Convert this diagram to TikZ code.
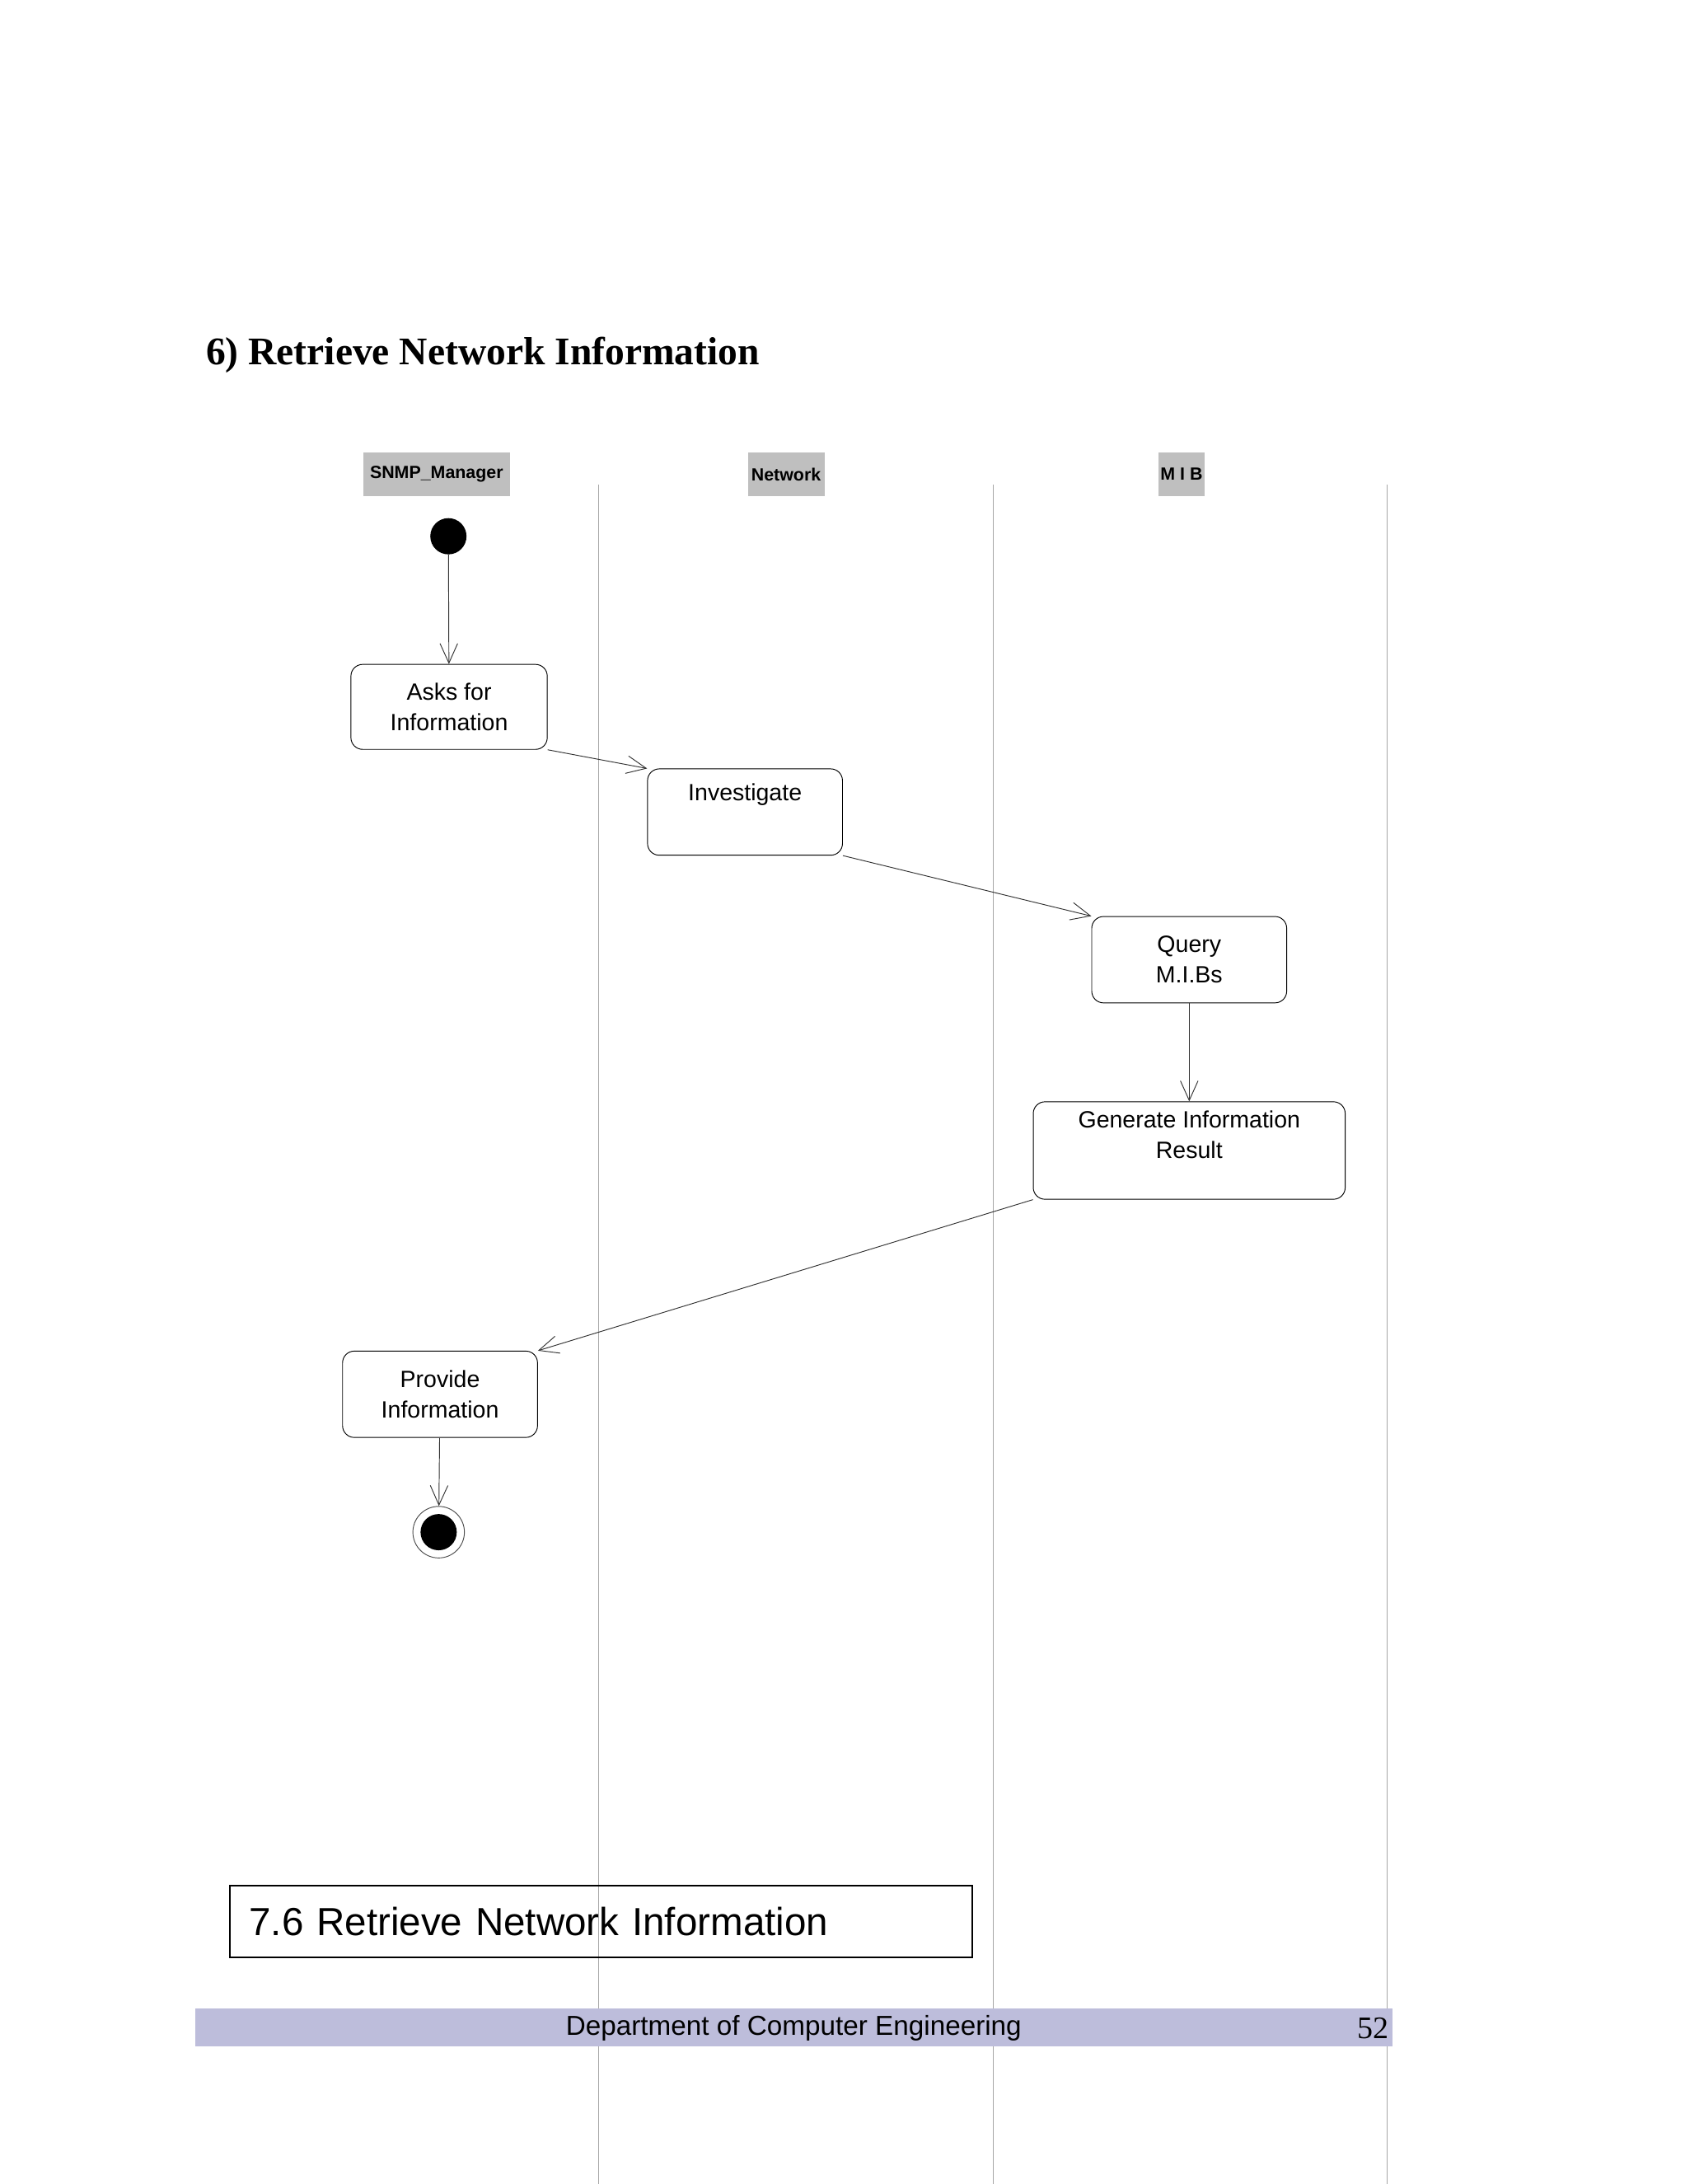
\documentclass[tikz,border=0pt]{standalone}
\usepackage{fontspec}
\setmainfont{Liberation Serif}
\newfontfamily\sansf{Liberation Sans}
\usetikzlibrary{arrows.meta}
\tikzset{
    act/.style={draw, rounded corners=6pt, thin, align=center, font=\sansf\fontsize{12}{15.5}\selectfont},
    lane/.style={draw=gray!70, thin},
    head/.style={fill=gray!50, font=\sansf\bfseries\fontsize{9}{10}\selectfont, inner sep=0pt},
    flow/.style={-{Straight Barb[length=10pt,width=9pt]}, thin, draw=black!80},
}
\begin{document}
\begin{tikzpicture}[x=0.025cm, y=-0.025cm]
    \useasboundingbox (0,0) rectangle (1210,1568);
    \node[anchor=west, font=\bfseries\fontsize{20}{24}\selectfont] (title) at (143,255) {6) Retrieve Network Information};

    % swimlanes
    \node[head, minimum width=105*0.025cm, minimum height=31*0.025cm] (hmgr) at (313.5,340.5) {SNMP\_Manager};
    \node[head, minimum width=55*0.025cm, minimum height=31*0.025cm] (hnet) at (564.5,340.5) {Network};
    \node[head, minimum width=33*0.025cm, minimum height=31*0.025cm] (hmib) at (848.5,340.5) {M I B};
    \foreach \x in {430,713,996}
        \draw[lane] (\x,348) -- (\x,1568);

    % states
    \node[circle, fill, minimum size=26*0.025cm, inner sep=0pt] (start) at (322,385) {};
    \node[act, minimum width=141*0.025cm, minimum height=61*0.025cm] (asks) at (322.5,507.5) {Asks for\\Information};
    \node[act, minimum width=140*0.025cm, minimum height=62*0.025cm] (inv) at (535,583) {Investigate\\\strut};
    \node[act, minimum width=140*0.025cm, minimum height=62*0.025cm] (query) at (854,689) {Query\\M.I.Bs};
    \node[act, minimum width=224*0.025cm, minimum height=70*0.025cm] (gen) at (854,826) {Generate Information\\Result\\[-4pt]\strut};
    \node[act, minimum width=140*0.025cm, minimum height=62*0.025cm] (prov) at (316,1001) {Provide\\Information};
    \node[circle, draw=black!70, thin, minimum size=37*0.025cm, inner sep=0pt] (stop) at (315,1100) {};
    \node[circle, fill, minimum size=26*0.025cm, inner sep=0pt] (stopdot) at (315,1100) {};

    \draw[flow] (start) -- (asks);
    \draw[flow] (asks.south east) -- (inv.north west);
    \draw[flow] (inv.south east) -- (query.north west);
    \draw[flow] (query) -- (gen);
    \draw[flow] (gen.south west) -- (prov.north east);
    \draw[flow] (prov) -- (stop);

    % caption and footer
    \node[draw, thick, minimum width=533*0.025cm, minimum height=51*0.025cm, text width=505*0.025cm, align=left, font=\sansf\fontsize{20}{24}\selectfont] (cap) at (431.5,1379.5) {7.6 Retrieve Network Information};
    \fill[blue!30!gray!40] (140,1442) rectangle (1000,1469);
    \node[font=\sansf\fontsize{14}{16}\selectfont] (dept) at (570,1456) {Department of Computer Engineering};
    \node[font=\fontsize{16}{18}\selectfont] (page) at (986,1456) {52};
\end{tikzpicture}
\end{document}
